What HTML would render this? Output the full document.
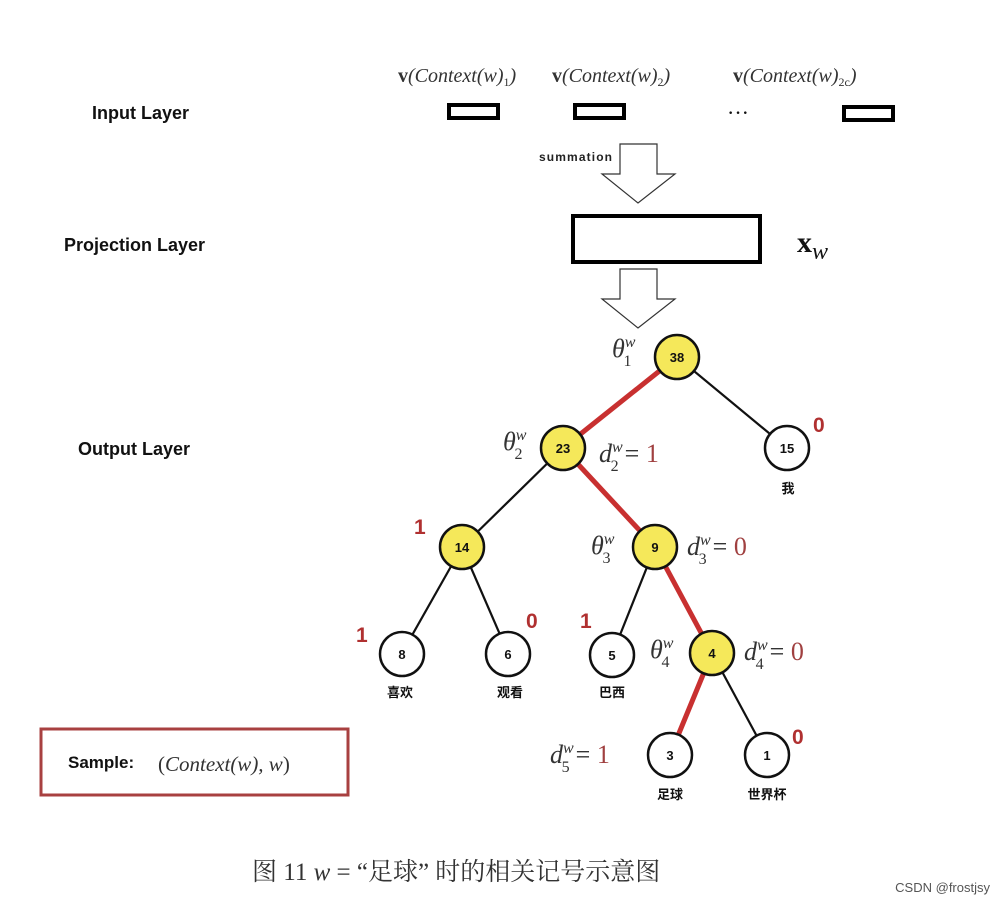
<!DOCTYPE html>
<html><head><meta charset="utf-8"><style>
html,body{margin:0;padding:0;background:#fff;}
svg{display:block}
.l{font-family:"Liberation Sans",sans-serif;font-weight:bold;font-size:18px;fill:#111}
.m{font-family:"Liberation Serif",serif;font-style:italic;fill:#333}
.n{font-family:"Liberation Sans",sans-serif;font-weight:bold;font-size:13px;fill:#111;text-anchor:middle}
.c{font-family:"Liberation Sans","Noto Sans CJK SC",sans-serif;font-weight:bold;font-size:13px;fill:#111;text-anchor:middle}
.r{font-family:"Liberation Sans",sans-serif;font-weight:bold;font-size:21px;fill:#b03030}
.rv{font-family:"Liberation Serif",serif;font-size:26px;fill:#a04040}
</style></head><body>
<svg width="1004" height="908" viewBox="0 0 1004 908" xmlns="http://www.w3.org/2000/svg">
<text class="l" x="92" y="119">Input  Layer</text>
<text class="l" x="64" y="251">Projection  Layer</text>
<text class="l" x="78" y="455">Output Layer</text>

<g class="m" font-size="20">
<text x="398" y="82"><tspan font-style="normal" font-weight="bold">v</tspan>(Context(w)<tspan font-size="12" dy="4" font-style="normal">1</tspan><tspan dy="-4">)</tspan></text>
<text x="552" y="82"><tspan font-style="normal" font-weight="bold">v</tspan>(Context(w)<tspan font-size="12" dy="4" font-style="normal">2</tspan><tspan dy="-4">)</tspan></text>
<text x="733" y="82"><tspan font-style="normal" font-weight="bold">v</tspan>(Context(w)<tspan font-size="12" dy="4" font-style="normal">2c</tspan><tspan dy="-4">)</tspan></text>
</g>
<g fill="none" stroke="#000" stroke-width="4">
<rect x="449" y="105" width="49" height="13"/>
<rect x="575" y="105" width="49" height="13"/>
<rect x="844" y="107" width="49" height="13"/>
<rect x="573" y="216" width="187" height="46" stroke-width="4"/>
</g>
<text x="727" y="120" font-size="22" font-family="Liberation Serif" fill="#111">···</text>
<text x="539" y="161" font-family="Liberation Sans" font-weight="bold" font-size="12" fill="#222" textLength="73">summation</text>
<g fill="#fff" stroke="#333" stroke-width="1.2">
<polygon points="620,144 657,144 657,174 675,174 638,203 602,174 620,174"/>
<polygon points="620,269 657,269 657,299 675,299 638,328 602,299 620,299"/>
</g>
<text x="797" y="252" font-family="Liberation Serif" font-weight="bold" font-size="30" fill="#111">x<tspan font-weight="normal" font-style="italic" font-size="24" dy="7">w</tspan></text>

<g stroke="#111" stroke-width="2.2">
<line x1="677" y1="357" x2="787" y2="448"/>
<line x1="563" y1="448" x2="462" y2="547"/>
<line x1="462" y1="547" x2="402" y2="653"/>
<line x1="462" y1="547" x2="508" y2="653"/>
<line x1="655" y1="547" x2="612" y2="655"/>
<line x1="712" y1="653" x2="767" y2="755"/>
</g>
<g stroke="#c83030" stroke-width="5">
<line x1="677" y1="357" x2="563" y2="448"/>
<line x1="563" y1="448" x2="655" y2="547"/>
<line x1="655" y1="547" x2="712" y2="653"/>
<line x1="712" y1="653" x2="670" y2="755"/>
</g>
<g stroke="#111" stroke-width="2.5">
<circle cx="677" cy="357" r="22" fill="#f5e85a"/>
<circle cx="563" cy="448" r="22" fill="#f5e85a"/>
<circle cx="462" cy="547" r="22" fill="#f5e85a"/>
<circle cx="655" cy="547" r="22" fill="#f5e85a"/>
<circle cx="712" cy="653" r="22" fill="#f5e85a"/>
<circle cx="787" cy="448" r="22" fill="#fff"/>
<circle cx="402" cy="654" r="22" fill="#fff"/>
<circle cx="508" cy="654" r="22" fill="#fff"/>
<circle cx="612" cy="655" r="22" fill="#fff"/>
<circle cx="670" cy="755" r="22" fill="#fff"/>
<circle cx="767" cy="755" r="22" fill="#fff"/>
</g>
<text class="n" x="677" y="362">38</text>
<text class="n" x="563" y="453">23</text>
<text class="n" x="462" y="552">14</text>
<text class="n" x="655" y="552">9</text>
<text class="n" x="712" y="658">4</text>
<text class="n" x="787" y="453">15</text>
<text class="n" x="402" y="659">8</text>
<text class="n" x="508" y="659">6</text>
<text class="n" x="612" y="660">5</text>
<text class="n" x="670" y="760">3</text>
<text class="n" x="767" y="760">1</text>
<text class="c" x="788" y="493">我</text>
<text class="c" x="400" y="697">喜欢</text>
<text class="c" x="510" y="697">观看</text>
<text class="c" x="612" y="697">巴西</text>
<text class="c" x="670" y="799">足球</text>
<text class="c" x="767" y="799">世界杯</text>

<text class="r" x="813" y="432">0</text>
<text class="r" x="414" y="534">1</text>
<text class="r" x="356" y="642">1</text>
<text class="r" x="526" y="628">0</text>
<text class="r" x="580" y="628">1</text>
<text class="r" x="792" y="744">0</text>

<g class="m" font-size="26">
<text x="612" y="357">θ<tspan font-size="16" dy="-10">w</tspan><tspan font-size="16" font-style="normal" dx="-12" dy="19">1</tspan></text>
<text x="503" y="450">θ<tspan font-size="16" dy="-10">w</tspan><tspan font-size="16" font-style="normal" dx="-12" dy="19">2</tspan></text>
<text x="591" y="554">θ<tspan font-size="16" dy="-10">w</tspan><tspan font-size="16" font-style="normal" dx="-12" dy="19">3</tspan></text>
<text x="650" y="658">θ<tspan font-size="16" dy="-10">w</tspan><tspan font-size="16" font-style="normal" dx="-12" dy="19">4</tspan></text>
<text x="599" y="462">d<tspan font-size="16" dy="-10">w</tspan><tspan font-size="16" font-style="normal" dx="-12" dy="19">2</tspan><tspan font-style="normal" dy="-9" dx="6">= </tspan><tspan class="rv" font-style="normal">1</tspan></text>
<text x="687" y="555">d<tspan font-size="16" dy="-10">w</tspan><tspan font-size="16" font-style="normal" dx="-12" dy="19">3</tspan><tspan font-style="normal" dy="-9" dx="6">= </tspan><tspan class="rv" font-style="normal">0</tspan></text>
<text x="744" y="660">d<tspan font-size="16" dy="-10">w</tspan><tspan font-size="16" font-style="normal" dx="-12" dy="19">4</tspan><tspan font-style="normal" dy="-9" dx="6">= </tspan><tspan class="rv" font-style="normal">0</tspan></text>
<text x="550" y="763">d<tspan font-size="16" dy="-10">w</tspan><tspan font-size="16" font-style="normal" dx="-12" dy="19">5</tspan><tspan font-style="normal" dy="-9" dx="6">= </tspan><tspan class="rv" font-style="normal">1</tspan></text>
</g>

<rect x="41" y="729" width="307" height="66" fill="none" stroke="#a84040" stroke-width="3"/>
<text x="68" y="768" font-family="Liberation Sans" font-weight="bold" font-size="17" fill="#111">Sample:</text>
<text x="158" y="771" class="m" font-size="21"><tspan font-style="normal">(</tspan>Context(w), w<tspan font-style="normal">)</tspan></text>

<text x="252" y="880" font-family="Liberation Serif,'Noto Serif CJK SC',serif" font-size="25" fill="#333">图 11  <tspan font-style="italic">w</tspan> = “足球” 时的相关记号示意图</text>
<text x="990" y="892" text-anchor="end" font-family="Liberation Sans" font-size="13" fill="#555">CSDN @frostjsy</text>
</svg>
</body></html>
